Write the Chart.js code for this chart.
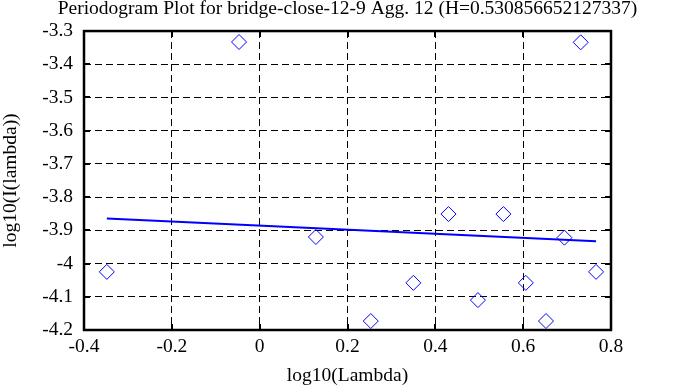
<!DOCTYPE html>
<html>
<head>
<meta charset="utf-8">
<script src="https://cdn.jsdelivr.net/npm/chart.js@4/dist/chart.umd.min.js"></script>
<style>
  html, body { margin: 0; padding: 0; background: #fff; }
  #wrap { width: 695px; height: 387px; }
</style>
</head>
<body>
<div id="wrap"><canvas id="chart" width="695" height="387"></canvas></div>
<script>
// periodogram points (log10 frequency vs log10 power)
const logLambda = [-0.348, -0.047, 0.128, 0.253, 0.350, 0.430, 0.497, 0.555, 0.606, 0.652, 0.694, 0.731, 0.766];
const logI = [-4.025, -3.333, -3.920, -4.173, -4.058, -3.851, -4.110, -3.851, -4.058, -4.173, -3.922, -3.334, -4.025];

// least squares fit line end points
const fitX = [-0.348, 0.766];
const fitY = [-3.864, -3.933];

const titleText = 'Periodogram Plot for bridge-close-12-9 Agg. 12 (H=0.530856652127337)';
const xTitle = 'log10(Lambda)';
const yTitle = 'log10(I(lambda))';

const serif = '"Liberation Serif", "Times New Roman", serif';
const fontSize = 19.5;

// box round the plot with short inner tick marks
const frame = {
    id: 'frame',
    afterDraw(chart) {
        const { ctx, chartArea: a, scales } = chart;
        ctx.save();
        ctx.strokeStyle = '#000';
        ctx.lineWidth = 2;
        ctx.beginPath();
        scales.x.ticks.forEach(t => {
            const px = Math.round(scales.x.getPixelForValue(t.value));
            ctx.moveTo(px, a.top); ctx.lineTo(px, a.top + 6);
            ctx.moveTo(px, a.bottom); ctx.lineTo(px, a.bottom - 6);
        });
        scales.y.ticks.forEach(t => {
            const py = Math.round(scales.y.getPixelForValue(t.value));
            ctx.moveTo(a.left, py); ctx.lineTo(a.left + 6, py);
            ctx.moveTo(a.right, py); ctx.lineTo(a.right - 6, py);
        });
        ctx.stroke();
        ctx.lineWidth = 2.5;
        ctx.strokeRect(a.left, a.top, a.right - a.left, a.bottom - a.top);
        ctx.restore();
    }
};

const fmt = v => String(Number(Number(v).toFixed(1)));

new Chart(document.getElementById('chart'), {
    type: 'scatter',
    data: {
        datasets: [
            {
                label: 'fit',
                data: fitX.map((x, i) => ({ x, y: fitY[i] })),
                showLine: true,
                borderColor: '#0000ff',
                borderWidth: 2,
                pointRadius: 0,
                fill: false
            },
            {
                label: 'periodogram',
                data: logLambda.map((x, i) => ({ x, y: logI[i] })),
                pointStyle: 'rectRot',
                pointRadius: 7.5,
                borderColor: '#0000ff',
                borderWidth: 1,
                backgroundColor: 'rgba(0,0,0,0)'
            }
        ]
    },
    options: {
        responsive: false,
        animation: false,
        devicePixelRatio: 1,
        clip: false,
        layout: { padding: 0 },
        plugins: {
            legend: { display: false },
            tooltip: { enabled: false },
            title: {
                display: true,
                text: titleText,
                color: '#000',
                font: { family: serif, size: fontSize, weight: 'normal', lineHeight: 0.9 },
                padding: { top: 0, bottom: 13.5 }
            }
        },
        scales: {
            x: {
                type: 'linear',
                min: -0.4,
                max: 0.8,
                afterFit: s => { s.height = 57; },
                ticks: { stepSize: 0.2, color: '#000', padding: 5, callback: fmt, font: { family: serif, size: fontSize } },
                grid: { color: '#000', lineWidth: 1, drawTicks: false },
                border: { display: false, dash: [7, 4] },
                title: { display: true, text: xTitle, color: '#000', padding: 0, font: { family: serif, size: fontSize, lineHeight: 1.1 } }
            },
            y: {
                type: 'linear',
                min: -4.2,
                max: -3.3,
                afterFit: s => { s.width = 84; },
                ticks: { stepSize: 0.1, color: '#000', padding: 11, callback: fmt, font: { family: serif, size: fontSize } },
                grid: { color: '#000', lineWidth: 1, drawTicks: false },
                border: { display: false, dash: [7, 4] },
                title: { display: true, text: yTitle, color: '#000', padding: 0, font: { family: serif, size: fontSize, lineHeight: 1.1 } }
            },
            // empty right margin so the title centres on the whole canvas
            yRight: {
                type: 'linear',
                position: 'right',
                min: -4.2,
                max: -3.3,
                afterFit: s => { s.width = 84; },
                ticks: { display: false },
                grid: { display: false, drawTicks: false },
                border: { display: false }
            }
        }
    },
    plugins: [frame]
});
</script>
</body>
</html>
